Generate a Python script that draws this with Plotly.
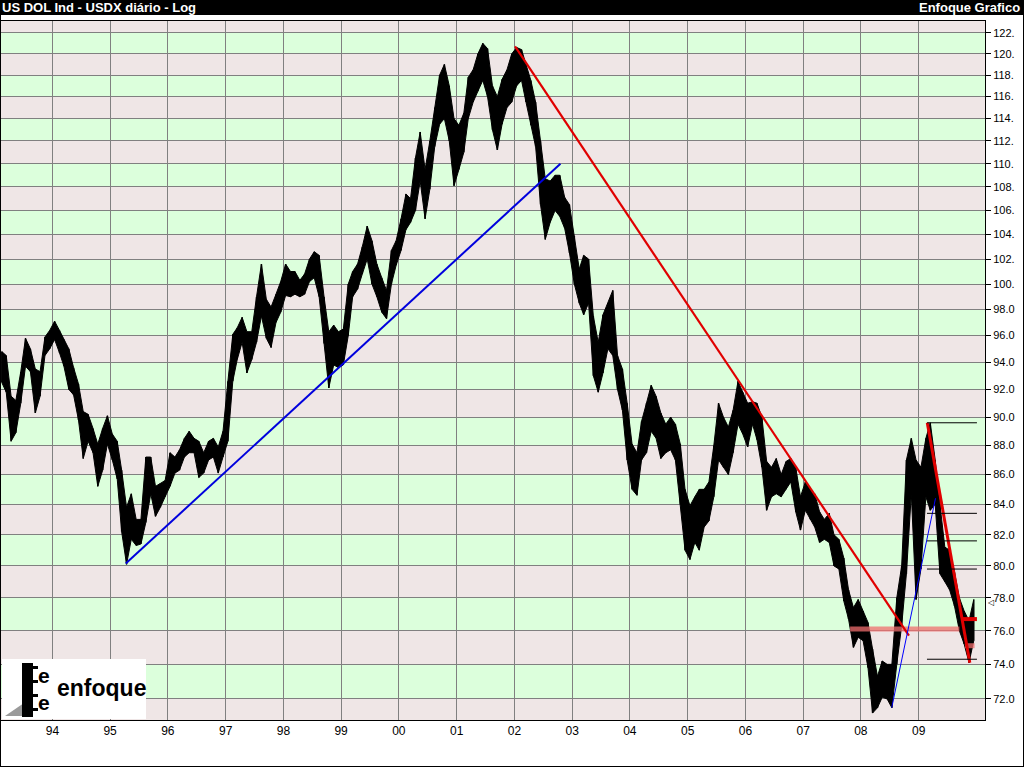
import math
import plotly.graph_objects as go
import pandas as pd

# ---------------- data ----------------
start_month = "1993-02-01"
end_month = "2009-12-01"

high = [94.8, 94.5, 91.5, 91.2, 93.3, 95.8, 95.0, 93.5, 93.3, 95.9, 96.4,
        97.1, 96.4, 95.7, 95.0, 93.6, 92.4, 90.4, 90.2, 89.2, 88.1, 89.2, 90.1,
        88.8, 88.3, 86.3, 83.8, 84.7, 83.0, 83.0, 87.2, 87.2, 85.2, 85.4, 85.6,
        87.5, 87.2, 87.7, 88.5, 89.0, 88.5, 88.3, 87.5, 88.3, 88.5, 87.9, 89.0,
        92.6, 96.1, 96.6, 97.4, 96.3, 96.3, 99.0, 101.6, 98.8, 98.2, 99.2, 100.2,
        101.6, 101.0, 101.0, 100.3, 100.8, 102.0, 102.6, 102.3, 99.0, 96.3, 96.8, 96.3,
        96.5, 100.0, 101.0, 101.6, 103.0, 104.7, 103.5, 101.6, 100.5, 99.5, 102.7, 103.5,
        105.3, 107.4, 107.0, 110.5, 112.8, 109.5, 112.0, 115.0, 118.0, 119.0, 117.0, 114.0,
        113.4, 114.5, 117.8, 118.5, 120.0, 121.0, 120.5, 117.0, 116.0, 117.6, 118.5, 120.0,
        120.6, 120.4, 119.0, 117.5, 115.5, 112.0, 108.7, 108.5, 109.0, 109.0, 107.1, 106.5,
        103.9, 101.2, 102.3, 102.0, 97.5, 95.5, 97.6, 98.5, 99.5, 94.5, 93.5, 91.0,
        88.1, 87.5, 89.7, 91.0, 92.3, 91.5, 90.3, 89.5, 90.0, 89.5, 88.1, 85.0,
        83.9, 84.5, 85.0, 85.0, 85.5, 88.0, 91.0, 90.0, 89.3, 90.5, 92.6, 91.8,
        91.0, 91.1, 91.0, 90.0, 86.9, 86.5, 87.1, 86.0, 86.9, 87.1, 86.5, 84.5,
        85.5, 85.0, 84.7, 83.5, 83.0, 83.4, 82.0, 81.7, 80.5, 78.5, 77.4, 77.9,
        77.2, 76.5, 74.9, 73.3, 74.2, 74.0, 74.0, 78.0, 80.0, 87.0, 88.5, 87.0,
        86.5, 88.5, 89.6, 87.0, 84.0, 81.2, 81.0, 79.6, 78.0, 77.2, 76.6, 77.9]

low = [92.5, 91.8, 88.3, 88.9, 91.0, 93.7, 93.3, 90.3, 91.5, 94.5, 95.0,
       95.7, 94.7, 93.7, 92.0, 91.6, 89.8, 87.1, 88.3, 87.5, 85.2, 86.3, 88.1,
       87.0, 85.7, 82.2, 80.1, 81.7, 81.3, 81.4, 82.8, 84.7, 83.2, 83.8, 84.5,
       85.2, 86.1, 86.3, 87.2, 87.5, 87.5, 85.8, 86.1, 87.0, 87.2, 86.1, 87.2,
       88.3, 92.6, 94.2, 95.5, 93.2, 94.2, 95.5, 97.5, 95.8, 95.1, 97.0, 97.8,
       99.1, 99.0, 99.2, 99.0, 99.2, 100.2, 100.5, 99.0, 95.4, 92.1, 93.8, 93.6,
       93.8, 96.0, 99.0, 99.6, 100.8, 102.0, 100.0, 99.0, 97.8, 97.3, 100.0, 101.5,
       102.7, 104.4, 105.0, 106.0, 108.5, 105.3, 107.8, 111.5, 113.5, 114.0, 112.0, 108.1,
       109.5, 111.0, 114.0, 115.5, 116.5, 117.5, 116.0, 113.0, 111.2, 113.5, 115.0, 115.5,
       117.0, 117.5, 115.5, 113.4, 111.5, 106.5, 103.6, 105.0, 106.0, 105.5, 104.5, 102.5,
       100.0, 98.5, 97.6, 98.5, 93.0, 91.8, 93.2, 95.0, 94.5, 92.0, 90.5, 87.0,
       85.0, 84.6, 87.0, 87.5, 89.0, 88.5, 87.1, 87.5, 87.7, 87.0, 84.0, 81.0,
       80.4, 81.5, 81.0, 82.5, 82.9, 84.5, 87.0, 86.5, 86.0, 87.5, 89.5, 88.8,
       87.9, 89.5, 88.4, 86.5, 83.6, 84.5, 84.7, 84.5, 85.0, 85.5, 83.5, 82.3,
       83.6, 83.0, 82.5, 81.5, 81.7, 81.5, 80.0, 79.8, 77.8, 76.7, 75.0, 75.6,
       75.4, 73.8, 71.2, 71.5, 72.1, 72.0, 71.5, 74.0, 76.3, 79.5, 84.7, 77.9,
       79.8, 84.5, 83.6, 84.0, 79.5, 79.0, 78.5, 77.5, 76.0, 75.2, 74.1, 75.4]

# trend lines / drawings (end points)
blue_trend_x = ["1995-04-10", "2002-10-19"]
blue_trend_y = [80.15, 110.0]
red_trend_x = ["2002-01-05", "2008-10-31"]
red_trend_y = [120.7, 75.7]
blue_thin_x = ["2008-07-14", "2009-04-17"]
blue_thin_y = [71.5, 84.4]
red_trend2_x = ["2009-02-24", "2009-11-20"]
red_trend2_y = [89.6, 74.1]
support_x = ["2007-10-25", "2009-09-15"]
support_y = [76.1, 76.1]
red_short_x = ["2009-10-01", "2010-01-04"]
red_short_y = [76.7, 76.7]
pink_short_x = ["2009-10-20", "2009-12-20"]
pink_short_y = [75.1, 75.1]
fib_x = ["2009-02-22", "2010-01-04"]
fib_levels = [89.6, 83.4, 81.6, 79.8, 74.3]

year_ticks = ["1994-01-01", "1995-01-01", "1996-01-01", "1997-01-01", "1998-01-01",
              "1999-01-01", "2000-01-01", "2001-01-01", "2002-01-01", "2003-01-01",
              "2004-01-01", "2005-01-01", "2006-01-01", "2007-01-01", "2008-01-01",
              "2009-01-01"]
year_labels = ["94", "95", "96", "97", "98", "99", "00", "01", "02", "03",
               "04", "05", "06", "07", "08", "09"]
price_ticks = [72, 74, 76, 78, 80, 82, 84, 86, 88, 90, 92, 94, 96, 98, 100,
               102, 104, 106, 108, 110, 112, 114, 116, 118, 120, 122]
price_labels = ["72.0", "74.0", "76.0", "78.0", "80.0", "82.0", "84.0", "86.0",
                "88.0", "90.0", "92.0", "94.0", "96.0", "98.0", "100.", "102.",
                "104.", "106.", "108.", "110.", "112.", "114.", "116.", "118.",
                "120.", "122."]

x_range = ["1993-02-10", "2010-02-24"]
y_range_vals = [70.81, 123.16]

GREEN = "#dcffdc"
PINK = "#efe6e6"
GRID = "#808080"

# ---------------- figure ----------------
months = pd.date_range(start_month, end_month, freq="MS") + pd.Timedelta(days=14)

fig = go.Figure()
# price band: monthly high / low, filled between
fig.add_trace(go.Scatter(x=months, y=high, mode="lines",
                         line=dict(color="black", width=1), hoverinfo="skip"))
fig.add_trace(go.Scatter(x=months, y=low, mode="lines", fill="tonexty",
                         fillcolor="black",
                         line=dict(color="black", width=1), hoverinfo="skip"))
# monthly range bars
bx, by = [], []
for d, h, l in zip(months, high, low):
    bx += [d, d, None]
    by += [l, h, None]
fig.add_trace(go.Scatter(x=bx, y=by, mode="lines",
                         line=dict(color="black", width=1.5), hoverinfo="skip"))


def seg(x, y, color, width):
    fig.add_trace(go.Scatter(x=x, y=y, mode="lines",
                             line=dict(color=color, width=width),
                             hoverinfo="skip"))


seg(support_x, support_y, "rgba(240,110,110,0.75)", 5)
seg(pink_short_x, pink_short_y, "rgba(240,110,110,0.75)", 5)
seg(blue_trend_x, blue_trend_y, "#0000dd", 2)
seg(red_trend_x, red_trend_y, "#e00000", 2.2)
seg(blue_thin_x, blue_thin_y, "#0000ff", 1)
seg(red_trend2_x, red_trend2_y, "#e00000", 3)
seg(red_short_x, red_short_y, "#e00000", 4)
for lv in fib_levels:
    seg(fib_x, [lv, lv], "black", 1)

shapes = []
for k in range(0, len(price_ticks) - 1, 2):
    shapes.append(dict(type="rect", xref="paper", yref="y", x0=0, x1=1,
                       y0=price_ticks[k], y1=price_ticks[k + 1],
                       fillcolor=GREEN, line=dict(width=0), layer="below"))

# header bar and outer frame (paper coordinates, plot area = 984 x 699 px)
pw, ph = 984.0, 699.0


def px(xp):
    return (xp - 1) / pw


def py(yp):
    return (720 - yp) / ph


shapes.append(dict(type="rect", xref="paper", yref="paper",
                   x0=px(0), x1=px(1024), y0=py(15), y1=py(0),
                   fillcolor="black", line=dict(width=0), layer="above"))
for (x0, y0, x1, y1) in [(0.5, 15, 0.5, 767), (0.5, 766.5, 1023.5, 766.5),
                         (1023.5, 15, 1023.5, 767)]:
    shapes.append(dict(type="line", xref="paper", yref="paper",
                       x0=px(x0), x1=px(x1), y0=py(y0), y1=py(y1),
                       line=dict(color="black", width=1), layer="above"))
# logo box
shapes.append(dict(type="rect", xref="paper", yref="paper",
                   x0=px(2), x1=px(146), y0=py(719), y1=py(659),
                   fillcolor="white", line=dict(width=0), layer="above"))
shapes.append(dict(type="path", xref="paper", yref="paper",
                   path=f"M {px(5)} {py(716)} L {px(24)} {py(716)} L {px(24)} {py(703)} Z",
                   fillcolor="#9a9a9a", line=dict(width=0), layer="above"))
shapes.append(dict(type="rect", xref="paper", yref="paper",
                   x0=px(22), x1=px(33), y0=py(717), y1=py(663),
                   fillcolor="black", line=dict(width=0), layer="above"))
for yy in (666, 680, 694, 708):
    shapes.append(dict(type="rect", xref="paper", yref="paper",
                       x0=px(22), x1=px(38), y0=py(yy + 3), y1=py(yy),
                       fillcolor="black", line=dict(width=0), layer="above"))

annotations = [
    dict(xref="paper", yref="paper", x=px(0), y=py(7.5), xanchor="left",
         yanchor="middle", showarrow=False, text="<b>US DOL Ind - USDX diário - Log</b>",
         font=dict(family="Liberation Sans", size=13, color="white")),
    dict(xref="paper", yref="paper", x=px(1022), y=py(7.5), xanchor="right",
         yanchor="middle", showarrow=False, text="<b>Enfoque Grafico</b>",
         font=dict(family="Liberation Sans", size=13, color="white")),
    dict(xref="paper", yref="paper", x=px(44), y=py(689), xanchor="center",
         yanchor="middle", showarrow=False, text="<b>e<br>e</b>",
         font=dict(family="Liberation Sans", size=21, color="black")),
    dict(xref="paper", yref="paper", x=px(101), y=py(688), xanchor="center",
         yanchor="middle", showarrow=False, text="<b>enfoque</b>",
         font=dict(family="Liberation Sans", size=23, color="black")),
    dict(xref="paper", yref="paper", x=px(985), y=py(602), xanchor="left",
         yanchor="middle", showarrow=False, text="◁",
         font=dict(family="DejaVu Sans", size=8, color="black")),
]

fig.update_layout(
    width=1024, height=768,
    margin=dict(l=1, r=39, t=21, b=48, autoexpand=False),
    paper_bgcolor="white", plot_bgcolor=PINK,
    showlegend=False,
    shapes=shapes, annotations=annotations,
    xaxis=dict(type="date", range=x_range, tickvals=year_ticks, ticktext=year_labels,
               showgrid=True, gridcolor=GRID, gridwidth=1, ticks="",
               showline=True, linecolor="black", linewidth=1, mirror=True,
               tickfont=dict(family="Liberation Sans", size=12, color="black"),
               zeroline=False, fixedrange=True, automargin=False),
    yaxis=dict(type="log", side="right",
               range=[math.log10(y_range_vals[0]), math.log10(y_range_vals[1])],
               tickvals=price_ticks, ticktext=price_labels,
               showgrid=True, gridcolor=GRID, gridwidth=1,
               ticks="outside", ticklen=5, tickcolor="black",
               showline=True, linecolor="black", linewidth=1, mirror=True,
               tickfont=dict(family="Liberation Sans", size=11, color="black"),
               zeroline=False, fixedrange=True, automargin=False),
)

fig.write_html("out.html", config={"displayModeBar": False},
               post_script="document.body.style.margin='0';document.body.style.overflow='hidden';")
